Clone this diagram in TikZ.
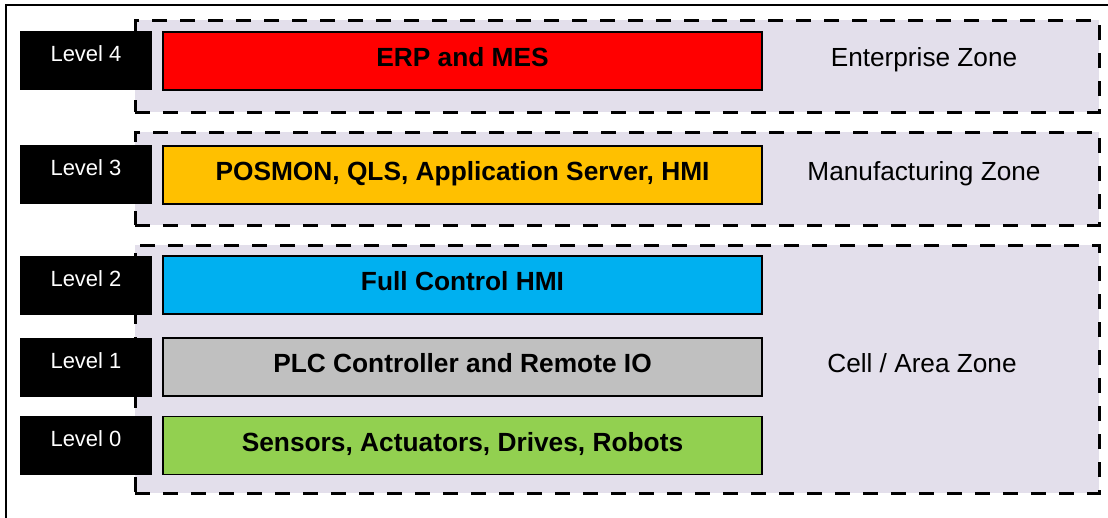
\documentclass[tikz,border=0pt]{standalone}
\usepackage{fontspec}
\setmainfont{Liberation Sans}
\setsansfont{Liberation Sans}
\usetikzlibrary{positioning}

\definecolor{zonefill}{HTML}{E3DFEB}
\definecolor{erpred}{HTML}{FF0000}
\definecolor{opsyellow}{HTML}{FFC000}
\definecolor{hmiblue}{HTML}{00B0F0}
\definecolor{plcgray}{HTML}{C0C0C0}
\definecolor{fieldgreen}{HTML}{92D050}

\begin{document}
\begin{tikzpicture}[
  x=1pt,y=-1pt,
  font=\sffamily,
  zone/.style={draw,fill=zonefill,line width=3pt,dash pattern=on 15pt off 13pt,minimum width=964pt,inner sep=0pt},
  lvl/.style={fill=black,text=white,minimum width=132pt,minimum height=59pt,inner sep=0pt,
    text height=16.5pt,text depth=13.6pt,font=\fontsize{22}{26}\selectfont},
  layer/.style={draw,line width=1.5pt,minimum width=599pt,minimum height=58pt,inner sep=0pt,
    text height=19.7pt,text depth=8.2pt,font=\fontsize{26.3}{30}\selectfont\bfseries},
  zonetxt/.style={inner sep=0pt,text height=18.8pt,text depth=0pt,font=\fontsize{26.2}{30}\selectfont}
]
\useasboundingbox (0,0) rectangle (1108,517);
\draw[line width=2pt] (6,520) |- (1112,5);
% zones
\node[zone,minimum height=92pt] (ent) at (617,66) {};
\node[zone,minimum height=93pt] (man) at (617,178.5) {};
\node[zone,minimum height=248pt] (cell) at (617,369) {};
\node[zonetxt] (entlbl) at (924,57.5) {Enterprise Zone};
\node[zonetxt] (manlbl) at (924,171) {Manufacturing Zone};
\node[zonetxt] (celllbl) at (922,363.5) {Cell / Area Zone};
% levels
\node[lvl] (l4) at (86,60.5) {Level 4};
\node[lvl] (l3) at (86,174.5) {Level 3};
\node[lvl] (l2) at (86,285) {Level 2};
\node[lvl] (l1) at (86,367) {Level 1};
\node[lvl] (l0) at (86,445.5) {Level 0};
% layers
\node[layer,fill=erpred] (erp) at (462.5,61) {ERP and MES};
\node[layer,fill=opsyellow] (ops) at (462.5,175) {POSMON, QLS, Application Server, HMI};
\node[layer,fill=hmiblue] (hmi) at (462.5,285) {Full Control HMI};
\node[layer,fill=plcgray] (plc) at (462.5,367) {PLC Controller and Remote IO};
\node[layer,fill=fieldgreen] (field) at (462.5,445.5) {Sensors, Actuators, Drives, Robots};
\end{tikzpicture}
\end{document}
